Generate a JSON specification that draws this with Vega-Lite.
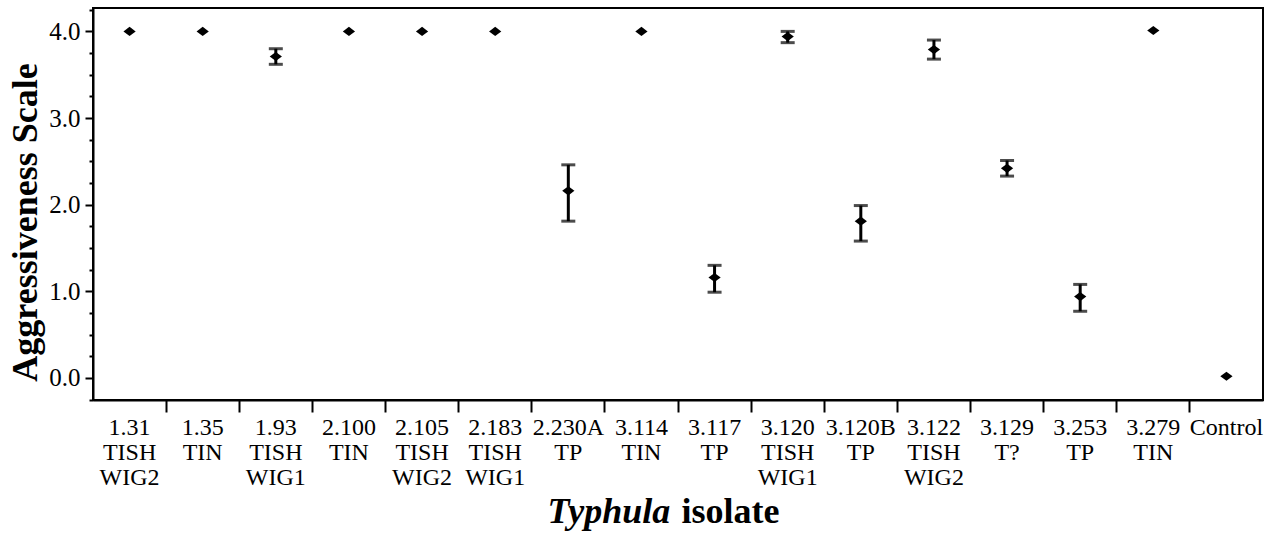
{
  "$schema": "https://vega.github.io/schema/vega-lite/v6.json",
  "width": 1170,
  "height": 392,
  "autosize": "none",
  "padding": {"left": 93, "top": 8, "right": 14, "bottom": 133},
  "background": "white",
  "data": {
    "values": [
      {"isolate": "1.31 TISH WIG2", "mean": 4.0, "lower": null, "upper": null},
      {"isolate": "1.35 TIN", "mean": 4.0, "lower": null, "upper": null},
      {"isolate": "1.93 TISH WIG1", "mean": 3.71, "lower": 3.62, "upper": 3.8},
      {"isolate": "2.100 TIN", "mean": 4.0, "lower": null, "upper": null},
      {"isolate": "2.105 TISH WIG2", "mean": 4.0, "lower": null, "upper": null},
      {"isolate": "2.183 TISH WIG1", "mean": 4.0, "lower": null, "upper": null},
      {"isolate": "2.230A TP", "mean": 2.16, "lower": 1.81, "upper": 2.46},
      {"isolate": "3.114 TIN", "mean": 4.0, "lower": null, "upper": null},
      {"isolate": "3.117 TP", "mean": 1.16, "lower": 0.99, "upper": 1.3},
      {"isolate": "3.120 TISH WIG1", "mean": 3.94, "lower": 3.87, "upper": 4.0},
      {"isolate": "3.120B TP", "mean": 1.81, "lower": 1.58, "upper": 1.99},
      {"isolate": "3.122 TISH WIG2", "mean": 3.79, "lower": 3.68, "upper": 3.9},
      {"isolate": "3.129 T?", "mean": 2.42, "lower": 2.33, "upper": 2.51},
      {"isolate": "3.253 TP", "mean": 0.94, "lower": 0.77, "upper": 1.08},
      {"isolate": "3.279 TIN", "mean": 4.01, "lower": null, "upper": null},
      {"isolate": "Control", "mean": 0.02, "lower": null, "upper": null}
    ]
  },
  "layer": [
    {
      "transform": [{"filter": "isValid(datum.lower)"}],
      "mark": {"type": "rule", "color": "black", "strokeWidth": 3},
      "encoding": {
        "x": {
          "field": "isolate", "type": "nominal", "sort": null,
          "scale": {"paddingInner": 0, "paddingOuter": 0, "domain": ["1.31 TISH WIG2", "1.35 TIN", "1.93 TISH WIG1", "2.100 TIN", "2.105 TISH WIG2", "2.183 TISH WIG1", "2.230A TP", "3.114 TIN", "3.117 TP", "3.120 TISH WIG1", "3.120B TP", "3.122 TISH WIG2", "3.129 T?", "3.253 TP", "3.279 TIN", "Control"]},
          "axis": {
            "orient": "bottom",
            "values": ["1.35 TIN", "1.93 TISH WIG1", "2.100 TIN", "2.105 TISH WIG2", "2.183 TISH WIG1", "2.230A TP", "3.114 TIN", "3.117 TP", "3.120 TISH WIG1", "3.120B TP", "3.122 TISH WIG2", "3.129 T?", "3.253 TP", "3.279 TIN", "Control"],
            "bandPosition": 0,
            "tickExtra": false,
            "labels": false,
            "tickSize": 12,
            "tickWidth": 2,
            "domainWidth": 2,
            "title": "Typhula",
            "titleFontSize": 36,
            "titleFontWeight": "bold",
            "titleFontStyle": "italic",
            "titleX": 454,
            "titleY": 122,
            "titleAlign": "left",
            "titleBaseline": "alphabetic",
            "titleAngle": 0
          }
        },
        "y": {
          "field": "lower", "type": "quantitative",
          "scale": {"domain": [-0.254, 4.27], "nice": false, "zero": false},
          "axis": {
            "orient": "left",
            "values": [0, 1, 2, 3, 4],
            "format": ".1f",
            "tickSize": 8,
            "tickWidth": 2,
            "labelFontSize": 25,
            "labelPadding": 5,
            "domainWidth": 2,
            "title": "Aggressiveness Scale",
            "titleFontSize": 36,
            "titleFontWeight": "bold",
            "titleX": -57,
            "titleY": 214,
            "titleAlign": "center",
            "titleBaseline": "alphabetic",
            "titleAngle": -90
          }
        },
        "y2": {"field": "upper"}
      }
    },
    {
      "transform": [{"filter": "isValid(datum.lower)"}],
      "mark": {"type": "tick", "color": "black", "thickness": 3, "size": 14},
      "encoding": {
        "x": {"field": "isolate", "type": "nominal", "sort": null, "axis": null},
        "y": {
          "field": "lower", "type": "quantitative",
          "axis": {
            "orient": "left",
            "values": [-0.25, 0.25, 0.5, 0.75, 1.25, 1.5, 1.75, 2.25, 2.5, 2.75, 3.25, 3.5, 3.75, 4.25],
            "labels": false,
            "domain": false,
            "tickSize": 4,
            "tickWidth": 2,
            "title": null
          }
        }
      }
    },
    {
      "transform": [{"filter": "isValid(datum.upper)"}],
      "mark": {"type": "tick", "color": "black", "thickness": 3, "size": 14},
      "encoding": {
        "x": {"field": "isolate", "type": "nominal", "sort": null, "axis": null},
        "y": {"field": "upper", "type": "quantitative", "axis": null}
      }
    },
    {
      "mark": {"type": "point", "filled": true, "color": "black", "opacity": 1, "shape": "M-1,0L0,-0.75L1,0L0,0.75Z", "size": 150},
      "encoding": {
        "x": {
          "field": "isolate", "type": "nominal", "sort": null,
          "axis": {
            "orient": "bottom",
            "labelAngle": 0,
            "labelExpr": "split(datum.label, ' ')",
            "labelFontSize": 24,
            "labelLineHeight": 25,
            "labelBaseline": "top",
            "labelPadding": 15,
            "ticks": false,
            "domain": false,
            "title": "isolate",
            "titleFontSize": 36,
            "titleFontWeight": "bold",
            "titleX": 588,
            "titleY": 122,
            "titleAlign": "left",
            "titleBaseline": "alphabetic",
            "titleAngle": 0
          }
        },
        "y": {"field": "mean", "type": "quantitative", "axis": null}
      }
    }
  ],
  "resolve": {"axis": {"x": "independent", "y": "independent"}},
  "config": {
    "font": "Liberation Serif",
    "axis": {
      "labelFont": "Liberation Serif",
      "titleFont": "Liberation Serif",
      "labelColor": "black",
      "titleColor": "black",
      "domainColor": "black",
      "tickColor": "black",
      "grid": false
    },
    "view": {"stroke": "black", "strokeWidth": 2}
  }
}
